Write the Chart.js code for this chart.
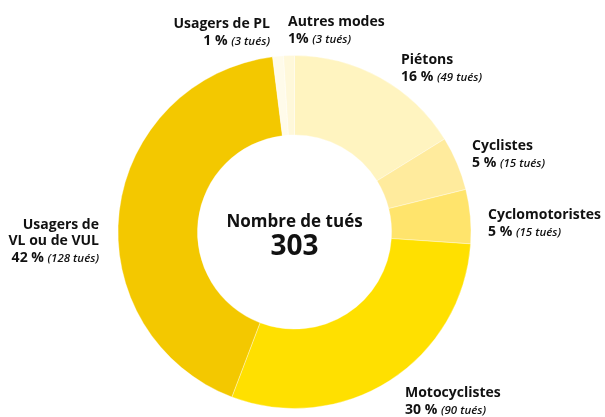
<!DOCTYPE html>
<html>
<head>
<meta charset="utf-8">
<title>Nombre de tués</title>
<script src="https://cdn.jsdelivr.net/npm/chart.js@4/dist/chart.umd.min.js"></script>
<style>
  body { margin: 0; background: #fff; }
  #wrap { width: 605px; height: 417px; }
</style>
</head>
<body>
<div id="wrap"><canvas id="tues" width="605" height="417"></canvas></div>
<script>
// dati, in senso orario partendo dalle 12
var categorie = ["Piétons", "Cyclistes", "Cyclomotoristes", "Motocyclistes", "Usagers de VL ou de VUL", "Usagers de PL", "Autres modes"];
var tues = [49, 15, 15, 90, 128, 3, 3];
var percentuali = ["16 %", "5 %", "5 %", "30 %", "42 %", "1 %", "1%"];
var totale = 303;

var colori = ["#FFF4C0", "#FFEB9D", "#FFE46C", "#FFE000", "#F3C800", "#FFFBEA", "#FFF8DA"];

// posizione delle etichette: x, baseline prima riga, allineamento, righe del titolo
var etichette = [
  { x: 401, y: 64, align: "left", righe: ["Piétons"] },
  { x: 472, y: 150, align: "left", righe: ["Cyclistes"] },
  { x: 488, y: 219, align: "left", righe: ["Cyclomotoristes"] },
  { x: 405, y: 397, align: "left", righe: ["Motocyclistes"] },
  { x: 99, y: 229, align: "right", righe: ["Usagers de", "VL ou de VUL"] },
  { x: 270, y: 28, align: "right", righe: ["Usagers de PL"] },
  { x: 288, y: 26, align: "left", righe: ["Autres modes"] }
];

var FONT = "'Open Sans', sans-serif";

function scriviPercentuale(ctx, x, y, align, perc, n){

  var forte = "700 14px " + FONT;
  var corsivo = "italic 600 11.5px " + FONT;
  var parte2 = "(" + n + " tués)";

  ctx.font = forte;
  var w1 = ctx.measureText(perc + " ").width;
  ctx.font = corsivo;
  var w2 = ctx.measureText(parte2).width;

  var x0 = align == "right" ? x - w1 - w2 : x;

  ctx.textAlign = "left";
  ctx.font = forte;
  ctx.fillText(perc, x0, y);
  ctx.font = corsivo;
  ctx.fillText(parte2, x0 + w1, y);
}

var pluginEtichette = {
  id: "etichette",
  afterDraw: function(chart){

    var ctx = chart.ctx;
    ctx.save();
    ctx.fillStyle = "#111";
    ctx.textBaseline = "alphabetic";

    for (var i = 0; i < etichette.length; i++) {

      var e = etichette[i];
      var y = e.y;

      ctx.font = "700 14px " + FONT;
      ctx.textAlign = e.align;
      for (var r = 0; r < e.righe.length; r++) {
        ctx.fillText(e.righe[r], e.x, y);
        y += 16;
      }
      y += 1;
      scriviPercentuale(ctx, e.x, y, e.align, percentuali[i], tues[i]);
    }

    // testo al centro
    var meta = chart.getDatasetMeta(0).data[0];
    var cx = meta.x;
    var cy = meta.y;
    ctx.textAlign = "center";
    ctx.font = "700 17px " + FONT;
    ctx.fillText("Nombre de tués", cx, cy - 5);
    ctx.font = "700 28px " + FONT;
    ctx.fillText(String(totale), cx, cy + 23);

    ctx.restore();
  }
};

function disegnaGrafico(){

  var ctx = document.getElementById('tues').getContext('2d');
  var chart = new Chart(ctx, {
    type: 'doughnut',
    data: {
      labels: categorie,
      datasets: [{
        data: tues,
        backgroundColor: colori,
        borderColor: 'rgba(255, 255, 255, 0.35)',
        borderWidth: 1
      }]
    },
    options: {
      responsive: false,
      animation: false,
      cutout: '55%',
      layout: {
        padding: { left: 117, right: 133, top: 55, bottom: 8 }
      },
      plugins: {
        legend: { display: false },
        tooltip: { enabled: false }
      }
    },
    plugins: [pluginEtichette]
  });
}

disegnaGrafico();
</script>
</body>
</html>
